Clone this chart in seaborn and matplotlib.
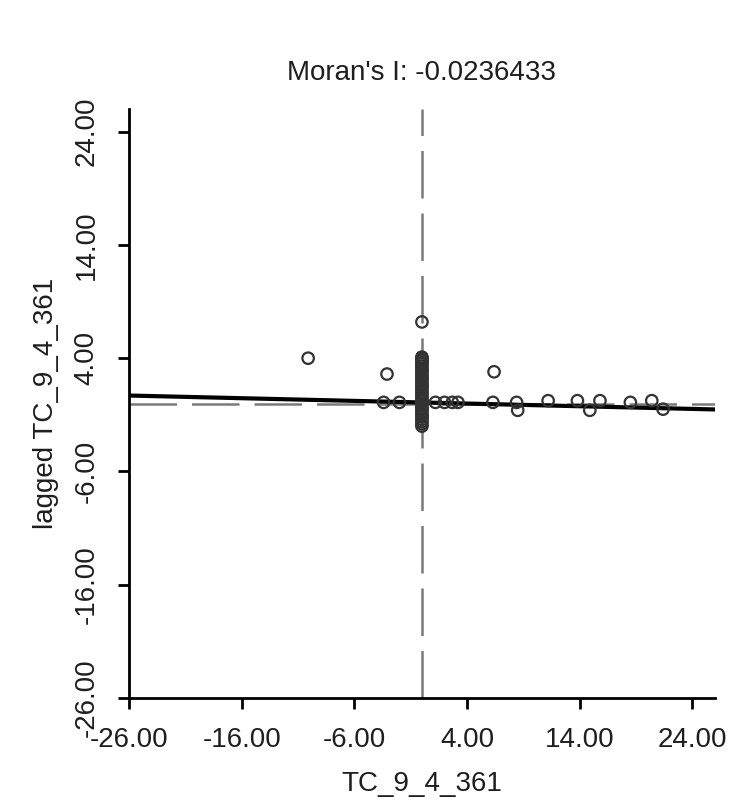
"""
Moran scatter plot for TC_9_4_361 against its spatial lag.
"""

import matplotlib
import matplotlib.pyplot as plt
import pandas as pd
import seaborn as sns

matplotlib.use("Agg")

# values
MORAN_I = -0.0236433
INTERCEPT = 0.09

# the dense column of observations sitting at x = 0
COLUMN_Y = [4.1, 4.0, 3.9, 3.8, 3.6, 3.5, 3.3, 3.1, 3.0, 2.8, 2.6, 2.4, 2.3, 2.1,
            1.9, 1.7, 1.6, 1.4, 1.2, 1.0, 0.9, 0.7, 0.5, 0.3, 0.2, 0.0, -0.2,
            -0.4, -0.5, -0.7, -0.9, -1.1, -1.2, -1.4, -1.6, -1.8, -2.0]

# remaining observations
OTHER_X = [0.0, -10.1, -3.1, 6.4, -3.4, -2.0, 1.2, 2.0, 2.7, 3.2, 6.3, 8.4, 8.5,
           11.2, 13.8, 14.9, 15.8, 18.5, 20.4, 21.4]
OTHER_Y = [7.2, 4.0, 2.6, 2.8, 0.1, 0.1, 0.1, 0.1, 0.1, 0.1, 0.1, 0.1, -0.6,
           0.25, 0.25, -0.6, 0.25, 0.1, 0.25, -0.5]

TICKS = [-26, -16, -6, 4, 14, 24]
LIMITS = (-26, 26)
VAR_NAME = "TC_9_4_361"

sns.set_style("ticks")
plt.rcParams["font.family"] = ["Liberation Sans", "DejaVu Sans"]
FONT_SIZE = 20
TEXT_COLOR = "#1e1e1e"

df = pd.DataFrame({
    "x": [0.0] * len(COLUMN_Y) + OTHER_X,
    "y": COLUMN_Y + OTHER_Y,
})

fig = plt.figure(figsize=(7.37, 8.05), dpi=100)
ax = fig.add_axes([0.175, 0.1329, 0.795, 0.7317])

# reference lines through the origin
ax.axvline(0, color="#7a7a7a", linewidth=1.8, dashes=(19, 6), zorder=1)
ax.axhline(0, color="#7a7a7a", linewidth=1.8, dashes=(19, 6), zorder=1)

sns.scatterplot(data=df, x="x", y="y", ax=ax, marker="o", s=68,
                facecolors="none", edgecolor="#333333", linewidth=1.6, zorder=3)

# regression line, slope = Moran's I
ax.axline((0, INTERCEPT), slope=MORAN_I, color="black", linewidth=3, zorder=2)

ax.set_xlim(*LIMITS)
ax.set_ylim(*LIMITS)
ax.set_xticks(TICKS)
ax.set_yticks(TICKS)
ax.set_xticklabels([f"{t:.2f}" for t in TICKS], fontsize=FONT_SIZE, color=TEXT_COLOR)
ax.set_yticklabels([f"{t:.2f}" for t in TICKS], fontsize=FONT_SIZE, color=TEXT_COLOR,
                   rotation=90, va="center")
ax.tick_params(direction="out", length=8, width=2, color="black", pad=13)

sns.despine(ax=ax)
for side in ("left", "bottom"):
    ax.spines[side].set_linewidth(2)
    ax.spines[side].set_color("black")

ax.set_title(f"Moran's I: {MORAN_I}", fontsize=FONT_SIZE, pad=21, color=TEXT_COLOR)
ax.set_xlabel(VAR_NAME, fontsize=FONT_SIZE, labelpad=13, color=TEXT_COLOR)
ax.set_ylabel(f"lagged {VAR_NAME}", fontsize=FONT_SIZE, labelpad=11, color=TEXT_COLOR)

fig.savefig("out.png", dpi=100, facecolor="white")
plt.close(fig)
